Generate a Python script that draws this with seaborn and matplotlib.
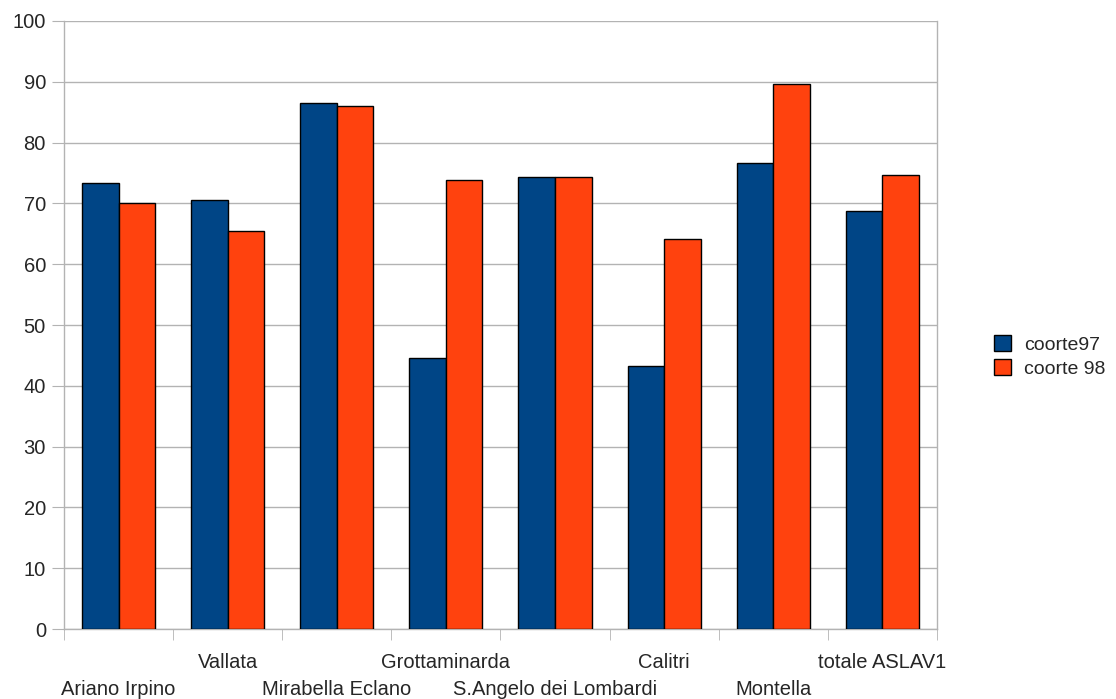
import numpy as np
import pandas as pd
import matplotlib
matplotlib.use('Agg')
import matplotlib.pyplot as plt
import seaborn as sns

categories = ['Ariano Irpino', 'Vallata', 'Mirabella Eclano', 'Grottaminarda',
              'S.Angelo dei Lombardi', 'Calitri', 'Montella', 'totale ASLAV1']
coorte97 = [73.3, 70.6, 86.5, 44.5, 74.3, 43.2, 76.6, 68.7]
coorte98 = [70.0, 65.4, 86.1, 73.9, 74.3, 64.1, 89.6, 74.6]
series_names = ['coorte97', 'coorte 98']
y_ticks = list(range(0, 101, 10))

df = pd.DataFrame({
    'categoria': categories * 2,
    'valore': coorte97 + coorte98,
    'serie': [series_names[0]] * len(categories) + [series_names[1]] * len(categories),
})

sns.set_style('white')
plt.rcParams['font.family'] = ['Liberation Sans', 'DejaVu Sans']

fig = plt.figure(figsize=(11.16, 6.99), dpi=100)
ax = fig.add_axes([0.0573, 0.100, 0.7823, 0.870])

palette = {'coorte97': '#004586', 'coorte 98': '#ff420e'}
sns.barplot(data=df, x='categoria', y='valore', hue='serie', palette=palette,
            width=0.67, edgecolor='black', linewidth=1, saturation=1, ax=ax,
            legend=True, zorder=3)

ax.set_xlim(-0.5, len(categories) - 0.5)
ax.set_ylim(0, 100)
ax.set_yticks(y_ticks)
ax.tick_params(axis='y', labelsize=14.5, length=9, color='#b3b3b3', left=True, pad=4)
ax.yaxis.grid(True, color='#b3b3b3', linewidth=1, zorder=0)
ax.set_axisbelow(True)

# etichette sfalsate su due righe: dispari in alto, pari in basso
idx = np.arange(len(categories))
ax.set_xticks(idx[1::2])
ax.set_xticklabels(categories[1::2], fontsize=14.5)
ax.tick_params(axis='x', length=0, pad=17)
ax.set_xticks(np.arange(-0.5, len(categories), 1), minor=True)
ax.tick_params(axis='x', which='minor', length=8, color='#b3b3b3', bottom=True)

sec = ax.secondary_xaxis('bottom')
sec.set_xticks(idx[0::2])
sec.set_xticklabels(categories[0::2], fontsize=14.5)
sec.tick_params(axis='x', length=0, pad=37)
sec.spines['bottom'].set_visible(False)

ax.set_xlabel('')
ax.set_ylabel('')
for s in ax.spines.values():
    s.set_color('#b3b3b3')
    s.set_linewidth(1)
ax.spines['top'].set_visible(False)

handles, lbls = ax.get_legend_handles_labels()
ax.legend_.remove()
fig.legend(handles, lbls, loc='center left', bbox_to_anchor=(0.875, 0.49),
           frameon=False, fontsize=14, handlelength=0.85, handleheight=0.85,
           handletextpad=0.7, labelspacing=0.3)

fig.savefig('out.png', dpi=100)
